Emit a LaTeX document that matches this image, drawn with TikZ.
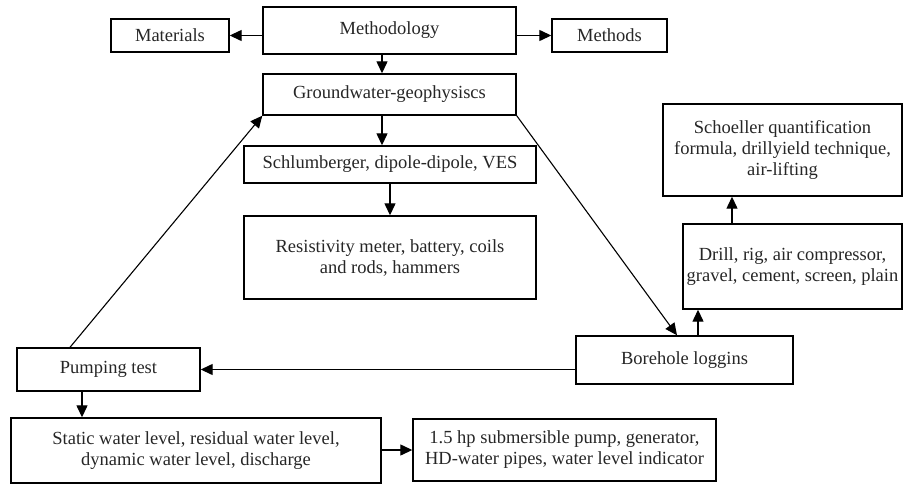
\documentclass[tikz,border=0pt]{standalone}
\usepackage{fontspec}
\setmainfont{Liberation Serif}
\usetikzlibrary{arrows.meta}
\begin{document}
\begin{tikzpicture}[x=1pt,y=-1pt,
  box/.style={draw=black, line width=1.4pt, inner sep=0pt, align=center,
    font=\fontsize{18.5}{21}\selectfont, text=black!85},
  arr/.style={line width=1.3pt, -{Triangle[length=12pt,width=11pt]}},
  thinarr/.style={line width=1.1pt, -{Triangle[length=12pt,width=11pt]}}]
\useasboundingbox (0,0) rectangle (904,485);
\node[box, minimum width=253pt, minimum height=47pt] (meth) at (389.5,30.5) {Methodology};
\node[box, minimum width=118pt, minimum height=33pt] (mat) at (170,35.5) {Materials};
\node[box, minimum width=115pt, minimum height=33pt] (mtd) at (609.5,35.5) {Methods};
\node[box, minimum width=253pt, minimum height=41pt] (gw) at (389.5,94.5) {Groundwater-geophysiscs};
\node[box, minimum width=292pt, minimum height=37pt] (sch) at (390,164.5) {Schlumberger, dipole-dipole, VES};
\node[box, minimum width=292pt, minimum height=83pt] (res) at (390,257.5) {Resistivity meter, battery, coils\\and rods, hammers};
\node[box, minimum width=239pt, minimum height=92pt] (schq) at (782.5,150) {Schoeller quantification\\formula, drillyield technique,\\air-lifting};
\node[box, minimum width=219pt, minimum height=85pt] (drill) at (792.5,266.5) {Drill, rig, air compressor,\\gravel, cement, screen, plain};
\node[box, minimum width=217pt, minimum height=48pt] (bore) at (684.5,360) {Borehole loggins};
\node[box, minimum width=183pt, minimum height=43pt] (pump) at (108.5,369.5) {Pumping test};
\node[box, minimum width=370pt, minimum height=65pt] (stat) at (196,450.5) {Static water level, residual water level,\\dynamic water level, discharge};
\node[box, minimum width=303pt, minimum height=62pt] (sub) at (564.5,450) {1.5 hp submersible pump, generator,\\HD-water pipes, water level indicator};
% connectors
\draw[arr] (mat.east -| meth.west) -- (mat.east);
\draw[arr] (mtd.west -| meth.east) -- (mtd.west);
\draw[arr] ([xshift=-7.5pt]meth.south) -- ([xshift=-7.5pt]gw.north);
\draw[arr] ([xshift=-7.5pt]gw.south) -- ([xshift=-7.5pt]gw.south |- sch.north);
\draw[arr] (sch.south) -- (res.north);
\draw[thinarr] (gw.south east) -- ([xshift=-7.5pt]bore.north);
\draw[arr] ([xshift=13.5pt]bore.north) -- ([xshift=13.5pt]bore.north |- drill.south);
\draw[arr] ([xshift=-60.5pt]drill.north) -- ([xshift=-60.5pt]drill.north |- schq.south);
\draw[arr] (bore.west |- pump.east) -- (pump.east);
\draw[thinarr] ([xshift=-38.5pt]pump.north) -- (gw.south west);
\draw[arr] ([xshift=-26.5pt]pump.south) -- ([xshift=-26.5pt]pump.south |- stat.north);
\draw[arr] (stat.east |- sub.west) -- (sub.west);
\end{tikzpicture}
\end{document}
